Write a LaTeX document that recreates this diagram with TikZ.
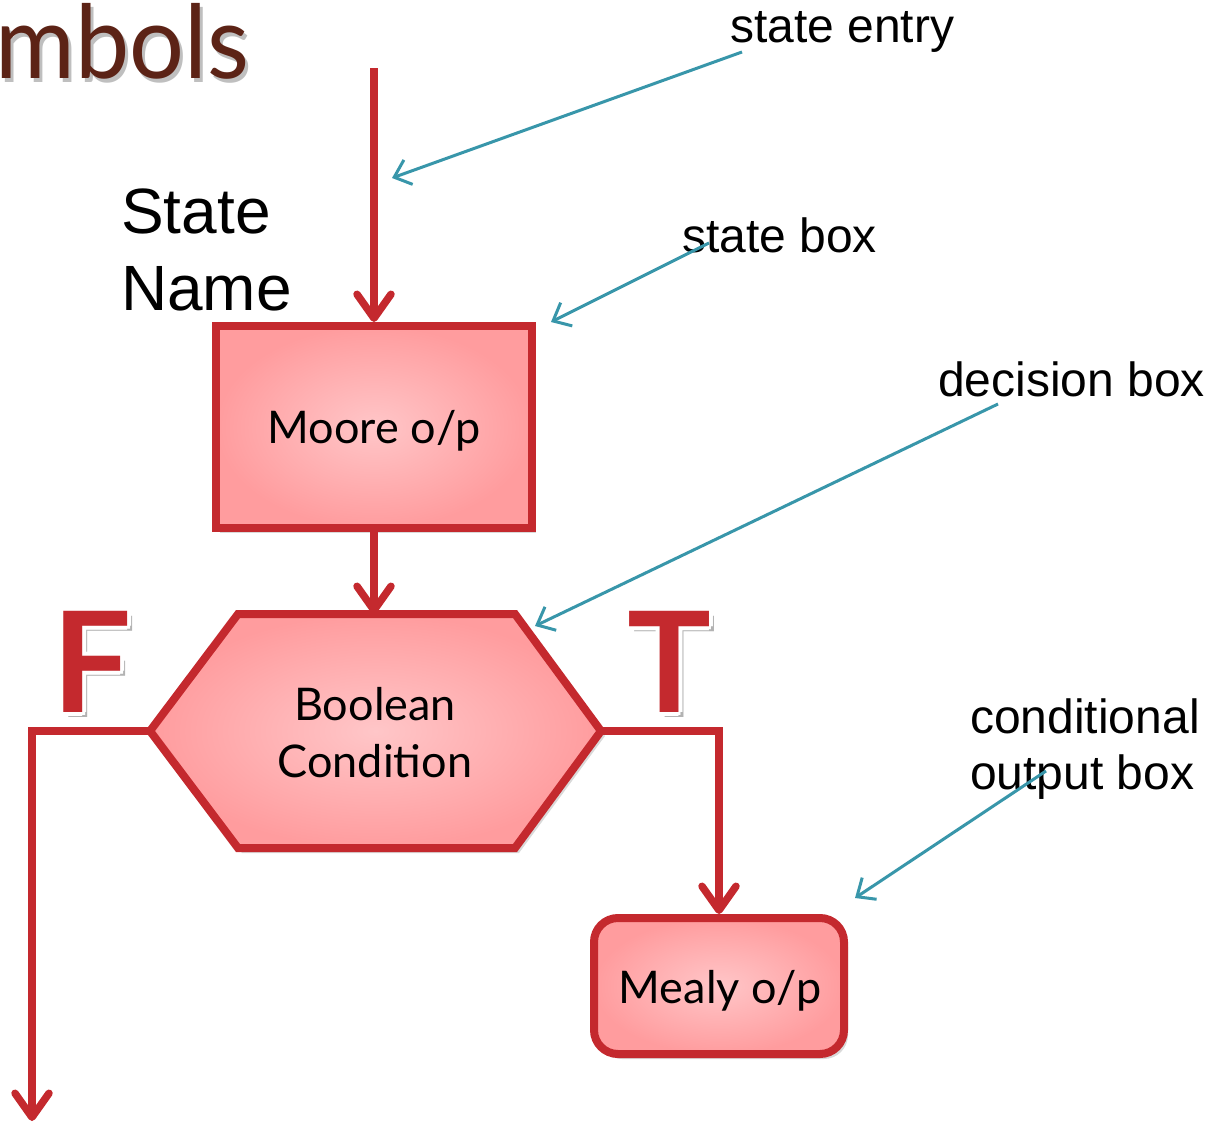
\documentclass[tikz,border=0pt]{standalone}
\usepackage{fontspec}
\setmainfont{Liberation Sans}
\newfontfamily\gillfont{Lato}
\usetikzlibrary{arrows.meta,shadows}

\definecolor{flowred}{RGB}{196,41,46}
\definecolor{boxin}{RGB}{255,198,200}
\definecolor{boxout}{RGB}{255,156,158}
\definecolor{noteteal}{RGB}{56,150,170}
\definecolor{titlebrown}{RGB}{92,35,22}

\tikzset{
  flowline/.style={draw=flowred, line width=7.5pt},
  flowarrow/.style={flowline, -{Straight Barb[length=24pt,width=34pt,line width=7.5pt,round]}},
  boxshade/.style={draw=flowred, line width=8pt, inner color=boxin, outer color=boxout,
    drop shadow={opacity=0.3, shadow xshift=4pt, shadow yshift=-5pt}},
  boxtext/.style={font=\gillfont\fontsize{45}{57}\selectfont, align=center, inner sep=0pt},
  notetext/.style={font=\fontsize{48}{56}\selectfont, inner sep=0pt, align=left},
  noteline/.style={draw=noteteal, line width=3pt, -{Straight Barb[length=15pt,width=26pt,line width=3pt]}},
  tfmark/.style={font=\gillfont\bfseries\fontsize{140}{140}\selectfont, inner sep=0pt},
}

\begin{document}
\begin{tikzpicture}[x=1pt, y=-1pt]
\useasboundingbox (0,0) rectangle (1217,1124);

% heading fragment
\node[anchor=base east, text=black, opacity=0.25, xscale=0.95, font=\gillfont\fontsize{102}{102}\selectfont] at (256,82) {mbols};
\node[anchor=base east, text=titlebrown, xscale=0.95, font=\gillfont\fontsize{102}{102}\selectfont] (heading) at (253,78) {mbols};

% state name
\node[notetext, font=\fontsize{64}{77}\selectfont, anchor=north west] (stateName) at (121,189) {State\\Name};

% state box
\node[boxshade, minimum width=316pt, minimum height=202pt] (state) at (374,427) {};
\node[boxtext] (stateText) at (374,431) {Moore o/p};

% decision box
\coordinate (hexL) at (150,731);
\coordinate (hexR) at (601,731);
\coordinate (hexTop) at (374,614);
\path[boxshade] (238,614) -- (515,614) -- (hexR) -- (515,848) -- (238,848) -- (hexL) -- cycle;
\node[boxtext] (decision) at (375,733) {Boolean\\Condition};

% conditional output box
\node[boxshade, rounded corners=24pt, minimum width=250pt, minimum height=136pt] (mealy) at (719,986) {};
\node[boxtext] (mealyText) at (720,991) {Mealy o/p};

% connectors
\coordinate (entryStart) at (374,68);
\coordinate (falseEnd) at (32,1121);
\draw[flowarrow] (entryStart) -- (state.north);
\draw[flowarrow] (state.south) -- (hexTop);
\draw[flowarrow] (hexL) -| (falseEnd);
\draw[flowarrow] (hexR) -| (mealy.north);

% branch marks
\foreach \px/\py/\ch in {92/662/F, 669/662/T}{
  \node[tfmark, text=black, opacity=0.3] at (\px+5,\py+5) {\ch};
  \foreach \dx/\dy in {4/0,-4/0,0/4,0/-4,2.8/2.8,-2.8/2.8,2.8/-2.8,-2.8/-2.8}
    \node[tfmark, text=white] at (\px+\dx,\py+\dy) {\ch};
}
\node[tfmark, text=flowred] (falseMark) at (92,662) {F};
\node[tfmark, text=flowred] (trueMark) at (669,662) {T};

% annotations
\node[notetext, anchor=base west] (entryNote) at (730,42) {state entry};
\node[notetext, anchor=base west] (boxNote) at (682,252) {state box};
\node[notetext, anchor=base west] (decisionNote) at (938,396) {decision box};
\node[notetext, anchor=north west] (outputNote) at (970,699) {conditional\\output box};

\coordinate (entryTail) at (742,52);
\coordinate (entryHead) at (392,178);
\coordinate (boxTail) at (709,243);
\coordinate (boxHead) at (551,322);
\coordinate (decisionTail) at (998,404);
\coordinate (decisionHead) at (535,626);
\coordinate (outputTail) at (1046,771);
\coordinate (outputHead) at (855,898);
\draw[noteline] (entryTail) -- (entryHead);
\draw[noteline] (boxTail) -- (boxHead);
\draw[noteline] (decisionTail) -- (decisionHead);
\draw[noteline] (outputTail) -- (outputHead);
\end{tikzpicture}
\end{document}
